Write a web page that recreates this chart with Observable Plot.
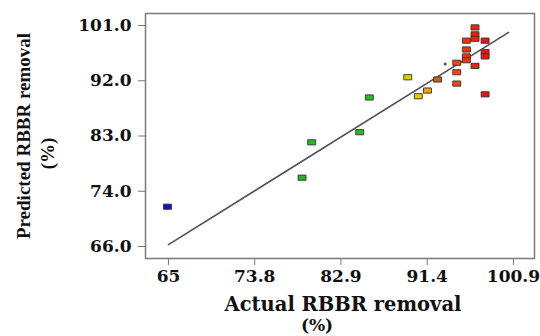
<!DOCTYPE html>
<html>
<head>
<meta charset="utf-8">
<script src="https://cdn.jsdelivr.net/npm/d3@7"></script>
<script src="https://cdn.jsdelivr.net/npm/@observablehq/plot@0.6"></script>
<style>
  html, body { margin: 0; padding: 0; background: #fff; }
  #chart svg { display: block; }
</style>
</head>
<body>
<div id="chart"></div>
<script>
// Actual vs predicted RBBR removal (%)
const actual = [64.9, 78.9, 79.9, 84.9, 85.9, 89.9, 91.0, 91.95, 93.0,
  95.0, 95.0, 95.0, 96.0, 96.0, 96.0, 96.0, 96.9, 96.9, 96.9, 96.9,
  97.95, 97.95, 97.95, 97.95];
const predicted = [72.3, 76.9, 82.5, 84.1, 89.6, 92.8, 89.8, 90.7, 92.45,
  95.1, 93.6, 91.8, 98.6, 97.2, 96.1, 95.5, 100.7, 99.6, 98.9, 94.6,
  98.6, 96.8, 96.1, 90.1];
// small grey marker near the cluster
const extraActual = [93.8];
const extraPredicted = [94.9];
// fitted line endpoints
const lineActual = [65.0, 100.4];
const linePredicted = [66.3, 99.9];
// tick labels (evenly spaced along each axis)
const xTickLabels = ["65", "73.8", "82.9", "91.4", "100.9"];
const yTickLabels = ["66.0", "74.0", "83.0", "92.0", "101.0"];
const xTickRange = [65, 100.9];
const yTickRange = [66, 101];

const xTicks = xTickLabels.map((_, i) => xTickRange[0] + i * (xTickRange[1] - xTickRange[0]) / (xTickLabels.length - 1));
const yTicks = yTickLabels.map((_, i) => yTickRange[0] + i * (yTickRange[1] - yTickRange[0]) / (yTickLabels.length - 1));
const xLabelMap = new Map(xTicks.map((t, i) => [t, xTickLabels[i]]));
const yLabelMap = new Map(yTicks.map((t, i) => [t, yTickLabels[i]]));

const points = actual.map((a, i) => ({actual: a, predicted: predicted[i]}));
const extra = extraActual.map((a, i) => ({actual: a, predicted: extraPredicted[i]}));
const line = lineActual.map((a, i) => ({actual: a, predicted: linePredicted[i]}));

const rectSymbol = {
  draw(ctx, size) {
    const r = Math.sqrt(size / Math.PI);
    const w = r * 1.1, h = r * 0.72;
    ctx.moveTo(-w, -h); ctx.lineTo(w, -h); ctx.lineTo(w, h); ctx.lineTo(-w, h); ctx.closePath();
  }
};

const tickFont = "DejaVu Serif";
const chart = Plot.plot({
  width: 540,
  height: 336,
  marginLeft: 145,
  marginRight: 6,
  marginTop: 13,
  marginBottom: 78,
  style: {background: "#fff"},
  x: {domain: [62.61, 103.09]},
  y: {domain: [64.1, 102.9]},
  color: {
    type: "linear",
    domain: [65, 80, 86, 89.9, 91, 92, 93, 95, 96.5, 98],
    range: ["#1414c8", "#22c022", "#22c022", "#d8d400", "#f0c400", "#f0a000", "#c86010", "#f04810", "#f02808", "#ee1010"]
  },
  marks: [
    Plot.frame({stroke: "#7a7a7a", strokeWidth: 1.5}),
    Plot.axisX({ticks: xTicks, tickFormat: d => xLabelMap.get(d), tickSize: 7, tickPadding: 4,
      stroke: "#7a7a7a", fill: "#111", fontSize: 17, fontFamily: tickFont, fontWeight: "bold", label: null}),
    Plot.axisY({ticks: yTicks, tickFormat: d => yLabelMap.get(d), tickSize: 7, tickPadding: 7,
      stroke: "#7a7a7a", fill: "#111", fontSize: 17, fontFamily: tickFont, fontWeight: "bold", label: null}),
    Plot.line(line, {x: "actual", y: "predicted", stroke: "#505050", strokeWidth: 1.6}),
    Plot.dot(points, {x: "actual", y: "predicted", r: 3.6, symbol: rectSymbol,
      fill: "actual", stroke: "#333", strokeWidth: 0.9}),
    Plot.dot(extra, {x: "actual", y: "predicted", r: 1.6, fill: "#555", stroke: "none"}),
    Plot.text(["Actual RBBR removal"], {frameAnchor: "bottom", textAnchor: "middle", lineAnchor: "middle",
      dx: 3, dy: 46.5, fontSize: 19.5, fontFamily: tickFont, fontWeight: "bold", fill: "#111"}),
    Plot.text(["(%)"], {frameAnchor: "bottom", textAnchor: "middle", lineAnchor: "middle",
      dx: -23, dy: 67, fontSize: 17, fontFamily: tickFont, fontWeight: "bold", fill: "#111"}),
    Plot.text(["Predicted RBBR removal"], {frameAnchor: "left", textAnchor: "middle", lineAnchor: "middle",
      dx: -122, dy: 0, rotate: -90, fontSize: 19, fontFamily: "Liberation Serif", fontWeight: "bold", fill: "#111"}),
    Plot.text(["(%)"], {frameAnchor: "left", textAnchor: "middle", lineAnchor: "middle",
      dx: -98, dy: 17.5, rotate: -90, fontSize: 19, fontFamily: "Liberation Serif", fontWeight: "bold", fill: "#111"})
  ]
});
document.getElementById("chart").appendChild(chart);
</script>
</body>
</html>
